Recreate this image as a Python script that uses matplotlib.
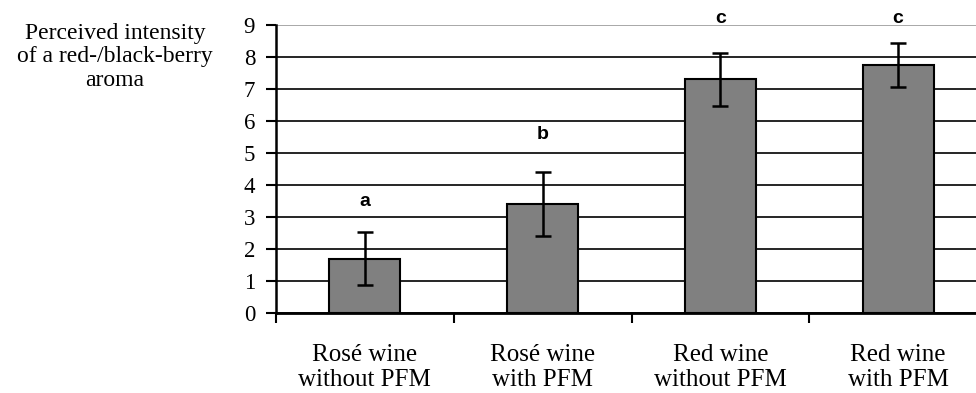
import matplotlib.pyplot as plt
import numpy as np

# data
categories = ["Rosé wine\nwithout PFM", "Rosé wine\nwith PFM", "Red wine\nwithout PFM", "Red wine\nwith PFM"]
means = [1.7, 3.4, 7.3, 7.75]
errors = [0.82, 1.0, 0.83, 0.7]
letters = ["a", "b", "c", "c"]
letter_y = [3.5, 5.58, 9.2, 9.2]
yticks = list(range(0, 10))

fig = plt.figure(figsize=(9.76, 3.93), dpi=100)
ax = fig.add_axes([276 / 976, 80 / 393, 711 / 976, 288 / 393])

x = np.arange(len(categories)) + 0.5
ax.bar(x, means, width=0.4, color="#808080", edgecolor="black", linewidth=1.5, zorder=3)
ax.errorbar(x, means, yerr=errors, fmt="none", ecolor="black", elinewidth=1.8,
            capsize=6, capthick=1.8, zorder=4)

for xi, lab, ly in zip(x, letters, letter_y):
    ax.text(xi, ly, lab, ha="center", va="center", fontsize=14, fontweight="bold",
            family="Liberation Sans", clip_on=False)

ax.set_xlim(0, 4)
ax.set_ylim(0, 9)
ax.set_yticks(yticks)
ax.set_yticklabels([str(t) for t in yticks], family="Liberation Serif", fontsize=16.5)
ax.set_xticks(x)
ax.set_xticklabels(categories, family="Liberation Serif", fontsize=18, linespacing=1.2)
ax.set_xticks(np.arange(0, 5), minor=True)
ax.tick_params(axis="x", which="major", length=0, pad=22)
ax.tick_params(axis="x", which="minor", length=7, width=1.5, direction="out")
ax.tick_params(axis="y", length=7, width=1.5, pad=8, direction="out")

ax.yaxis.grid(True, color="black", linewidth=1.2, zorder=0)
ax.set_axisbelow(True)
ax.get_ygridlines()[-1].set_color("0.6")

for s in ["top", "right"]:
    ax.spines[s].set_visible(False)
ax.spines["left"].set_linewidth(1.8)
ax.spines["bottom"].set_linewidth(2)

fig.text(115 / 976, 1 - 23 / 393, "Perceived intensity\nof a red-/black-berry\naroma",
         ha="center", va="top", family="Liberation Serif", fontsize=17, linespacing=1.15)

fig.savefig("out.png", dpi=100)
